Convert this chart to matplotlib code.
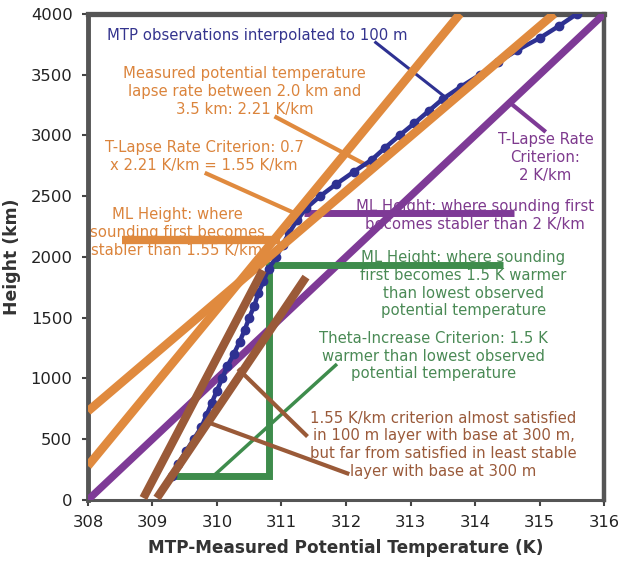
import numpy as np
import matplotlib.pyplot as plt

plt.rcParams.update({'font.family': 'DejaVu Sans', 'font.size': 10.7})

# MTP sounding, potential temperature (K) every 100 m
z_obs = np.arange(200, 4001, 100)
theta_obs = [309.30, 309.40, 309.52, 309.64, 309.76, 309.84, 309.92, 310.00, 310.08, 310.16,
             310.26, 310.35, 310.43, 310.50, 310.58, 310.64, 310.72, 310.80, 310.92, 311.02,
             311.12, 311.24, 311.38, 311.60, 311.85, 312.12, 312.40, 312.61, 312.83, 313.06,
             313.28, 313.50, 313.78, 314.08, 314.35, 314.65, 315.00, 315.30, 315.58]

# lapse-rate criteria (K/km) and where each line starts on the 308 K edge
measured_rate, measured_z0 = 2.21, 730
crit_rate, crit_z0 = 1.55, 280
fixed_rate, fixed_z0 = 2.0, 0

# mixed-layer heights (m)
ml_155 = 2140
ml_2 = 2360
ml_theta = 1930
theta_min, theta_inc = 309.30, 1.5

# local layer lapse lines (T, z)
layer_a_T, layer_a_z = [308.86, 310.71], [16, 1890]
layer_b_T, layer_b_z = [309.07, 311.38], [16, 1834]

fig = plt.figure(figsize=(6.19, 5.64), dpi=100)
ax = fig.add_axes([0.142, 0.1135, 0.834, 0.862])

orange = '#E08A3E'
purple = '#7E3A96'
blue = '#2E3192'
green = '#3E8C4C'
brown = '#9A5A38'


def rate_line(rate, z0, z_top=4000):
    zz = np.array([z0, z_top])
    return 308 + rate * (zz - z0) / 1000.0, zz


T, zz = rate_line(fixed_rate, fixed_z0)
ax.plot(T, zz, color=purple, lw=5.3, solid_capstyle='butt', zorder=3)
ax.plot([311.35, 314.6], [ml_2, ml_2], color=purple, lw=5, solid_capstyle='butt', zorder=3)

# theta-increase criterion
ax.plot([theta_min, theta_min + theta_inc, theta_min + theta_inc, 314.43],
        [200, 200, ml_theta, ml_theta], color=green, lw=5, solid_capstyle='butt',
        solid_joinstyle='miter', zorder=3)

ax.plot(theta_obs, z_obs, color=blue, lw=3.2, marker='o', ms=6, zorder=4)

T, zz = rate_line(measured_rate, measured_z0)
ax.plot(T, zz, color=orange, lw=6.2, solid_capstyle='butt', zorder=5)
T, zz = rate_line(crit_rate, crit_z0)
ax.plot(T, zz, color=orange, lw=6.2, solid_capstyle='butt', zorder=5)
ax.plot([308.53, 310.97], [ml_155, ml_155], color=orange, lw=6, solid_capstyle='butt', zorder=5)

ax.plot(layer_a_T, layer_a_z, color=brown, lw=6, solid_capstyle='butt', zorder=6)
ax.plot(layer_b_T, layer_b_z, color=brown, lw=6, solid_capstyle='butt', zorder=6)

# leaders from the notes to their lines
ax.plot([312.46, 313.51], [3764, 3326], color=blue, lw=2.2, zorder=2)
ax.plot([310.92, 312.38], [3148, 2738], color=orange, lw=3, zorder=2)
ax.plot([309.84, 311.17], [2685, 2368], color=orange, lw=3, zorder=2)
ax.plot([315.07, 314.56], [3039, 3260], color=purple, lw=3, zorder=2)
ax.plot([311.84, 309.99], [1109, 219], color=green, lw=2.5, zorder=2)
ax.plot([311.38, 310.35], [534, 1068], color=brown, lw=3, zorder=7)
ax.plot([312.02, 309.84], [219, 643], color=brown, lw=3, zorder=7)

kw = dict(ha='center', va='center', multialignment='center', zorder=1, linespacing=1.22)
ax.text(310.62, 3820, 'MTP observations interpolated to 100 m', color='#34348E', **kw)
ax.text(310.43, 3360, 'Measured potential temperature\nlapse rate between 2.0 km and\n3.5 km: 2.21 K/km',
        color='#DB843C', **kw)
ax.text(309.8, 2826, 'T-Lapse Rate Criterion: 0.7\nx 2.21 K/km = 1.55 K/km', color='#DB843C', **kw)
ax.text(309.38, 2200, 'ML Height: where\nsounding first becomes\nstabler than 1.55 K/km',
        color='#DB843C', **kw)
ax.text(315.09, 2817, 'T-Lapse Rate\nCriterion:\n2 K/km', color='#7E3A8E', **kw)
ax.text(314.0, 2341, 'ML Height: where sounding first\nbecomes stabler than 2 K/km',
        color='#7E3A8E', **kw)
ax.text(313.82, 1774, 'ML Height: where sounding\nfirst becomes 1.5 K warmer\nthan lowest observed\npotential temperature',
        color='#4A8A55', **kw)
ax.text(313.35, 1183, 'Theta-Increase Criterion: 1.5 K\nwarmer than lowest observed\npotential temperature',
        color='#4A8A55', **kw)
ax.text(313.51, 456, '1.55 K/km criterion almost satisfied\nin 100 m layer with base at 300 m,\n'
        'but far from satisfied in least stable\nlayer with base at 300 m', color='#9A5A3A', **kw)

ax.set_xlim(308, 316)
ax.set_ylim(0, 4000)
ax.set_xticks(np.arange(308, 317, 1))
ax.set_yticks(np.arange(0, 4001, 500))
ax.tick_params(direction='out', length=4, width=1.5, color='#444444', labelsize=11.8,
               labelcolor='#222222', pad=7)

for side, w in [('left', 3.5), ('top', 3.8), ('right', 3.2), ('bottom', 2.2)]:
    ax.spines[side].set_color('#555555')
    ax.spines[side].set_linewidth(w)

ax.set_xlabel('MTP-Measured Potential Temperature (K)', fontsize=12.2, fontweight='bold',
              color='#333333', labelpad=6)
ax.set_ylabel('Height (km)', fontsize=12.4, fontweight='bold', color='#333333', labelpad=7)

fig.savefig('out.png', dpi=100)
